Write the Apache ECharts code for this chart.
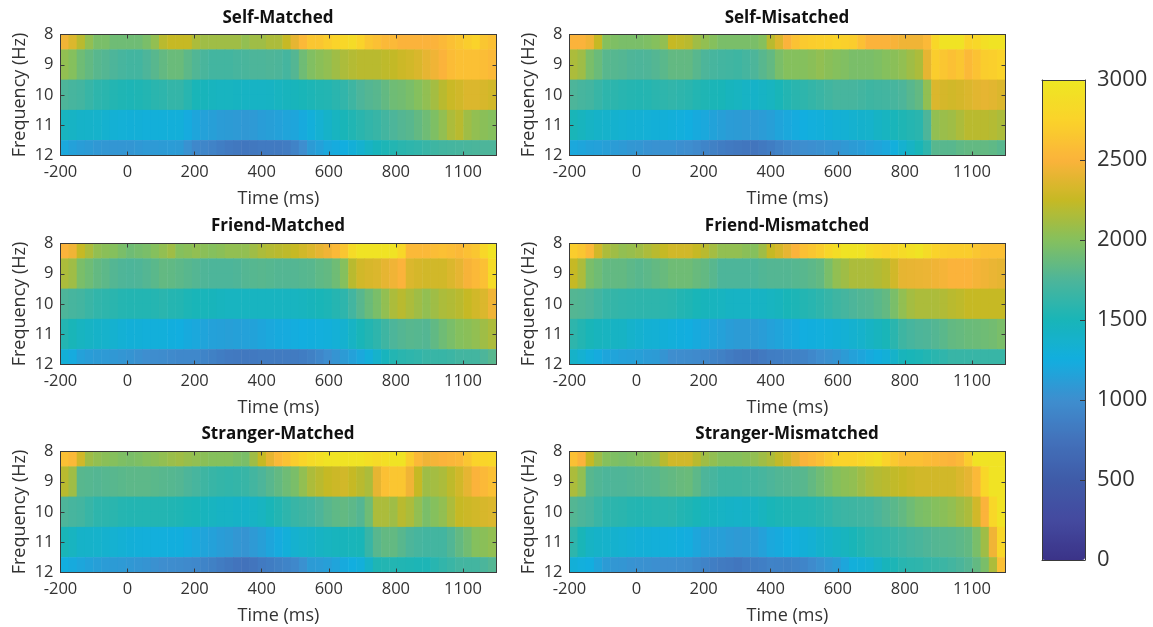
<!DOCTYPE html>
<html><head><meta charset="utf-8">
<style>html,body{margin:0;padding:0;background:#fff}#c{width:1153px;height:627px}</style>
<script src="https://cdn.jsdelivr.net/npm/echarts@6/dist/echarts.min.js"></script>
</head><body><div id="c"></div>
<script>
const times=['-200','-175','-150','-125','-100','-75','-50','-25',
'0','25','50','75','100','125','150','175',
'200','225','250','275','300','325','350','375',
'400','425','450','475','500','525','550','575',
'600','625','650','675','700','725','750','775',
'800','825','850','875','900','925','950','975',
'1000','1025','1050','1075','1100'];
const freqBands=['8-8.5','8.5-9','9-9.5','9.5-10','10-10.5','10.5-11','11-11.5','11.5-12'];
const bandRow=[0,1,1,2,2,3,3,4];
const tickTimes=[-200,0,200,400,600,800,1000];
const tickLabels=['-200','0','200','400','600','800','1100'];
const colorbarTicks=[0,500,1000,1500,2000,2500,3000];
const titles=['Self-Matched','Self-Misatched','Friend-Matched','Friend-Mismatched','Stranger-Matched','Stranger-Mismatched'];

const selfMatched=[
[2450,2350,2200,2050,1950,1950,1900,1900,
 1900,1900,1950,2050,2200,2250,2250,2250,
 2150,2100,2100,2100,2100,2100,2050,2100,
 2100,2150,2150,2250,2400,2550,2650,2650,
 2700,2750,2800,2850,2750,2650,2600,2550,
 2550,2500,2500,2500,2500,2500,2550,2600,
 2650,2700,2750,2650,2600],
[2050,2000,1900,1850,1800,1780,1750,1720,
 1700,1700,1750,1800,1850,1880,1880,1820,
 1770,1730,1700,1700,1700,1720,1730,1750,
 1750,1760,1750,1710,1780,1900,1980,2020,
 2050,2100,2150,2180,2200,2200,2200,2220,
 2240,2280,2300,2340,2400,2450,2500,2570,
 2600,2600,2600,2580,2550],
[1750,1720,1700,1650,1600,1580,1550,1530,
 1520,1530,1550,1580,1600,1630,1630,1570,
 1500,1480,1460,1450,1450,1440,1430,1420,
 1420,1430,1450,1470,1480,1500,1520,1540,
 1550,1580,1620,1680,1750,1780,1800,1850,
 1900,1920,1950,2000,2050,2120,2200,2270,
 2300,2350,2350,2330,2300],
[1450,1420,1400,1390,1380,1350,1320,1310,
 1300,1300,1290,1290,1290,1290,1290,1230,
 1180,1150,1130,1110,1100,1090,1080,1090,
 1120,1130,1150,1170,1180,1220,1280,1340,
 1400,1450,1500,1540,1580,1620,1650,1700,
 1750,1780,1800,1850,1900,1970,2050,2150,
 2200,2100,2050,2020,2000],
[1200,1150,1120,1100,1080,1070,1060,1060,
 1060,1080,1090,1090,1100,1110,1100,1030,
 950,930,900,860,820,800,790,800,
 820,820,820,840,900,1000,1100,1150,
 1200,1230,1250,1300,1350,1420,1480,1520,
 1550,1580,1600,1620,1650,1680,1700,1710,
 1720,1730,1740,1750,1750]];

const selfMismatched=[
[2500,2500,2450,2250,2000,1970,1950,1950,
 1950,1970,2000,2050,2250,2230,2200,2100,
 2050,2000,1950,1950,1950,1950,1950,2000,
 2200,2350,2500,2620,2680,2700,2720,2730,
 2750,2730,2700,2600,2500,2500,2500,2480,
 2450,2450,2450,2550,2800,2950,2950,2950,
 2750,2800,2900,2950,2950],
[2150,2100,1950,1880,1800,1790,1780,1760,
 1750,1760,1780,1810,1850,1850,1850,1800,
 1750,1720,1700,1690,1680,1710,1750,1800,
 1850,1950,2000,2000,2000,2020,2050,2020,
 2000,1980,1950,1950,1950,1970,2000,2020,
 2050,2100,2150,2400,2700,2650,2600,2650,
 2550,2620,2700,2720,2750],
[1750,1720,1700,1650,1600,1590,1570,1560,
 1550,1560,1580,1600,1620,1600,1580,1550,
 1530,1510,1500,1470,1450,1420,1400,1420,
 1450,1500,1550,1580,1600,1630,1660,1690,
 1720,1720,1720,1700,1680,1690,1700,1720,
 1750,1800,1850,2050,2350,2320,2300,2320,
 2350,2380,2400,2380,2350],
[1500,1460,1420,1400,1380,1360,1340,1330,
 1320,1310,1300,1300,1290,1270,1250,1220,
 1200,1160,1130,1110,1100,1090,1090,1110,
 1130,1170,1200,1230,1250,1270,1280,1300,
 1320,1330,1350,1370,1380,1420,1450,1490,
 1530,1560,1580,1750,2050,2080,2100,2150,
 2200,2200,2200,2180,2150],
[1200,1180,1160,1150,1130,1110,1090,1070,
 1060,1040,1030,1030,1030,1010,1000,960,
 920,880,850,820,800,790,780,810,
 850,900,950,980,1000,1010,1020,1040,
 1050,1080,1100,1120,1150,1170,1200,1270,
 1350,1420,1500,1600,1800,1800,1800,1830,
 1850,1850,1850,1830,1800]];

const friendMatched=[
[2500,2450,2250,2150,2050,2020,2000,1950,
 1900,1930,1950,2000,2050,2100,2000,2020,
 2050,2020,2000,2020,2050,2050,2050,2100,
 2150,2180,2200,2220,2250,2300,2350,2400,
 2450,2550,2650,2850,2950,2950,2950,2950,
 2950,2800,2550,2550,2550,2580,2600,2580,
 2550,2600,2650,2800,2950],
[2150,2100,1950,1900,1850,1820,1780,1760,
 1750,1760,1780,1810,1850,1840,1820,1800,
 1780,1760,1750,1750,1750,1760,1780,1790,
 1800,1790,1780,1780,1780,1790,1800,1830,
 1850,1900,2000,2200,2300,2330,2350,2400,
 2450,2500,2350,2320,2300,2300,2300,2350,
 2400,2480,2550,2600,2850],
[1750,1720,1700,1660,1620,1600,1580,1560,
 1550,1550,1550,1560,1580,1560,1550,1520,
 1500,1490,1480,1460,1450,1450,1450,1450,
 1450,1450,1450,1450,1450,1460,1480,1500,
 1520,1560,1600,1700,1800,1880,1950,2050,
 2150,2200,2150,2100,2050,2100,2150,2170,
 2200,2250,2300,2350,2450],
[1550,1500,1450,1420,1400,1380,1350,1320,
 1300,1300,1290,1280,1280,1260,1250,1220,
 1200,1170,1150,1140,1130,1140,1150,1160,
 1180,1200,1220,1230,1240,1250,1260,1270,
 1280,1310,1350,1420,1500,1550,1600,1680,
 1750,1780,1800,1790,1780,1840,1900,1950,
 2000,2020,2050,2100,2150],
[1300,1230,1150,1120,1100,1090,1080,1060,
 1050,1020,1000,990,980,960,950,950,
 950,910,880,850,820,810,800,810,
 830,830,830,830,830,850,880,940,
 1000,1050,1100,1150,1200,1290,1380,1470,
 1550,1580,1600,1620,1650,1650,1650,1670,
 1700,1700,1700,1750,1800]];

const friendMismatched=[
[2700,2650,2550,2300,2150,2100,2050,2070,
 2100,2150,2200,2250,2300,2300,2300,2250,
 2200,2120,2050,2050,2050,2020,2000,2100,
 2250,2320,2400,2500,2600,2650,2700,2800,
 2870,2950,2950,2950,2850,2800,2750,2800,
 2850,2900,2950,2850,2750,2720,2700,2700,
 2700,2650,2600,2600,2600],
[2250,2150,1950,1900,1850,1850,1850,1820,
 1800,1820,1850,1870,1900,1900,1900,1870,
 1850,1800,1750,1750,1750,1750,1750,1770,
 1780,1780,1780,1790,1800,1820,1850,1950,
 2050,2100,2150,2150,2150,2170,2200,2300,
 2400,2410,2420,2430,2450,2470,2500,2500,
 2500,2470,2450,2420,2400],
[1780,1770,1750,1700,1650,1630,1620,1610,
 1600,1600,1600,1590,1580,1550,1530,1500,
 1480,1460,1450,1430,1420,1420,1420,1430,
 1450,1470,1500,1520,1550,1570,1600,1640,
 1680,1710,1750,1770,1780,1810,1850,1950,
 2050,2120,2150,2150,2150,2170,2200,2220,
 2250,2250,2250,2250,2250],
[1600,1550,1500,1470,1450,1430,1420,1380,
 1350,1330,1320,1300,1280,1260,1250,1220,
 1200,1170,1150,1120,1100,1100,1100,1120,
 1150,1170,1200,1220,1250,1260,1270,1280,
 1300,1320,1350,1380,1420,1460,1500,1580,
 1680,1720,1750,1760,1780,1810,1850,1860,
 1880,1890,1900,1920,1950],
[1400,1340,1280,1230,1180,1170,1150,1140,
 1130,1110,1100,1050,1000,990,980,960,
 950,910,880,840,800,790,780,810,
 850,860,880,890,900,950,1000,1020,
 1050,1100,1150,1180,1220,1260,1300,1390,
 1480,1500,1520,1550,1580,1610,1650,1650,
 1650,1650,1650,1650,1650]];

const strangerMatched=[
[2600,2550,2300,2100,2050,2020,2000,1970,
 1950,1970,2000,2020,2050,2080,2100,2070,
 2050,2020,2000,2000,2000,1970,1950,2100,
 2250,2400,2550,2620,2700,2780,2850,2900,
 2950,2950,2950,2950,2950,2900,2850,2900,
 2950,2950,2700,2550,2450,2470,2500,2520,
 2550,2650,2750,2780,2800],
[2200,2100,1800,1790,1780,1790,1800,1810,
 1820,1820,1820,1810,1800,1790,1780,1750,
 1720,1680,1650,1630,1620,1630,1650,1700,
 1750,1800,1850,1900,1950,2050,2150,2200,
 2250,2280,2300,2250,2200,2150,2400,2600,
 2650,2650,2450,2250,2100,2120,2150,2220,
 2300,2400,2500,2550,2600],
[1750,1720,1700,1650,1600,1590,1580,1560,
 1550,1550,1550,1550,1550,1540,1530,1510,
 1500,1470,1450,1430,1420,1410,1400,1420,
 1450,1500,1550,1600,1650,1680,1700,1750,
 1800,1830,1850,1820,1780,1900,2150,2150,
 2100,2200,2150,2050,1950,2000,2050,2150,
 2250,2280,2300,2330,2350],
[1500,1450,1400,1390,1380,1360,1340,1320,
 1300,1290,1280,1270,1270,1260,1260,1230,
 1200,1170,1150,1120,1100,1070,1050,1090,
 1130,1180,1230,1290,1350,1380,1400,1430,
 1450,1470,1480,1490,1500,1650,1800,1850,
 1850,1800,1750,1720,1700,1700,1700,1770,
 1850,1920,2000,2020,2050],
[1250,1220,1190,1160,1130,1110,1100,1090,
 1080,1060,1050,1020,1000,990,980,960,
 950,910,880,840,800,770,750,780,
 820,850,880,910,950,1020,1100,1110,
 1130,1170,1220,1250,1280,1400,1530,1550,
 1550,1540,1530,1520,1520,1570,1620,1660,
 1700,1700,1700,1740,1780]];

const strangerMismatched=[
[2600,2500,2250,2100,2000,1970,1950,1970,
 2000,2020,2050,2200,2300,2300,2300,2200,
 2100,2050,2000,2000,2000,2020,2050,2100,
 2150,2230,2300,2400,2500,2550,2600,2680,
 2750,2750,2750,2800,2850,2900,2750,2670,
 2600,2600,2600,2570,2550,2520,2500,2550,
 2700,2950,2950,2950,2950],
[2150,2050,1800,1770,1750,1760,1760,1770,
 1780,1790,1800,1830,1850,1870,1880,1820,
 1750,1720,1680,1680,1680,1690,1700,1720,
 1750,1770,1780,1790,1800,1850,1900,1950,
 2000,2030,2050,2100,2150,2180,2200,2230,
 2250,2280,2300,2300,2300,2300,2300,2350,
 2400,2550,2800,2950,2950],
[1780,1750,1720,1660,1600,1590,1580,1560,
 1550,1560,1570,1570,1580,1550,1530,1500,
 1470,1440,1420,1410,1400,1410,1430,1460,
 1500,1520,1530,1540,1550,1560,1580,1610,
 1650,1670,1680,1690,1700,1740,1780,1810,
 1850,1900,1950,1970,2000,2020,2050,2100,
 2150,2300,2500,2800,2950],
[1600,1500,1420,1400,1380,1360,1340,1320,
 1300,1300,1290,1290,1280,1260,1240,1190,
 1150,1140,1130,1110,1090,1100,1110,1150,
 1200,1220,1250,1270,1300,1330,1370,1400,
 1430,1460,1500,1540,1580,1600,1620,1650,
 1680,1710,1730,1760,1780,1790,1800,1820,
 1850,1950,2100,2450,2800],
[1300,1270,1250,1170,1100,1070,1060,1040,
 1030,1020,1010,1000,1000,990,980,940,
 900,860,830,810,790,820,850,870,
 900,890,880,900,920,970,1020,1060,
 1100,1190,1280,1300,1330,1400,1480,1520,
 1570,1590,1600,1630,1650,1670,1700,1740,
 1780,1850,1950,2150,2600]];

const panels=[selfMatched,selfMismatched,friendMatched,friendMismatched,strangerMatched,strangerMismatched];
const colormap=['#3B3388','#444A9F','#3F5BA8','#4272BB','#3E8ECF','#12AEDF','#19B5B8','#4DB59A','#85C05D','#C6B924','#FBB33B','#FAD32A','#EEE722'];

const INK='#3a3a3a', TXT='#333333', FONT='"Open Sans"';
const lefts=[60.5,569.5], tops=[34.5,243.5,451.5], W=436, H=121;
const titleC=[278,787], titleY=[10,218,426];
const grid=[],xAxis=[],yAxis=[],series=[],title=[];
const lineOpt={show:true,onZero:false,lineStyle:{color:INK,width:1}};
const tickOpt={show:true,inside:true,length:4,lineStyle:{color:INK}};
panels.forEach((rows,p)=>{
  const c=p%2, r=Math.floor(p/2);
  grid.push({left:lefts[c],top:tops[r],width:W,height:H});
  title.push({text:titles[p],left:titleC[c],top:titleY[r],textAlign:'center',padding:0,
    textStyle:{fontFamily:FONT,fontSize:17,fontWeight:'bold',color:'#111'}});
  // hidden category axes place the cells; visible value axes carry ticks and labels
  const xi=xAxis.length, yi=yAxis.length;
  xAxis.push({type:'category',data:times,gridIndex:p,show:false,boundaryGap:true});
  yAxis.push({type:'category',data:freqBands,gridIndex:p,show:false,inverse:true,boundaryGap:true});
  const xBase={type:'value',gridIndex:p,min:-200,max:1100,interval:200,z:5,
    axisLine:lineOpt,axisTick:tickOpt,splitLine:{show:false}};
  xAxis.push(Object.assign({},xBase,{position:'bottom',name:'Time (ms)',nameLocation:'middle',nameGap:34,
    nameTextStyle:{fontFamily:FONT,fontSize:18,color:TXT},
    axisLabel:{showMaxLabel:false,formatter:v=>{const k=tickTimes.indexOf(v);return k<0?'':tickLabels[k];},
      fontFamily:FONT,fontSize:16.5,color:TXT,margin:8,hideOverlap:false}}));
  xAxis.push(Object.assign({},xBase,{position:'top',axisLabel:{show:false}}));
  const yBase={type:'value',gridIndex:p,min:8,max:12,interval:1,inverse:true,z:5,
    axisLine:lineOpt,axisTick:tickOpt,splitLine:{show:false}};
  yAxis.push(Object.assign({},yBase,{position:'left',name:'Frequency (Hz)',nameLocation:'middle',nameGap:32,
    nameTextStyle:{fontFamily:FONT,fontSize:18,color:TXT},
    axisLabel:{fontFamily:FONT,fontSize:16.5,color:TXT,margin:7,hideOverlap:false}}));
  yAxis.push(Object.assign({},yBase,{position:'right',axisLabel:{show:false}}));
  const data=[];
  bandRow.forEach((row,b)=>rows[row].forEach((v,ix)=>data.push([ix,b,v])));
  series.push({type:'heatmap',xAxisIndex:xi,yAxisIndex:yi,data,progressive:0,itemStyle:{borderWidth:0},emphasis:{disabled:true}});
});
// colour bar frame and ticks
const g=grid.length;
grid.push({left:1042,top:80,width:43,height:480});
const frame={type:'value',gridIndex:g,min:0,max:1,z:20,axisLine:lineOpt,axisTick:{show:false},axisLabel:{show:false},splitLine:{show:false}};
xAxis.push(Object.assign({},frame,{position:'bottom'}));
xAxis.push(Object.assign({},frame,{position:'top'}));
yAxis.push({type:'value',gridIndex:g,position:'right',min:0,max:3000,interval:500,z:20,axisLine:lineOpt,
  axisTick:{show:true,inside:true,length:5,lineStyle:{color:INK}},splitLine:{show:false},
  axisLabel:{fontFamily:FONT,fontSize:22,color:TXT,margin:12,padding:[0,0,6,0],
    formatter:v=>colorbarTicks.includes(v)?String(v):''}});
yAxis.push(Object.assign({},frame,{position:'left',max:3000}));

const chart=echarts.init(document.getElementById('c'),null,{renderer:'canvas'});
chart.setOption({
  animation:false,backgroundColor:'#fff',title,grid,xAxis,yAxis,series,
  visualMap:{type:'continuous',min:0,max:3000,calculable:false,realtime:false,hoverLink:false,
    seriesIndex:[0,1,2,3,4,5],left:1042,top:80,itemWidth:43,itemHeight:480,padding:0,text:null,showLabel:false,
    inRange:{color:colormap},textStyle:{color:'transparent',fontSize:1}}
});
</script></body></html>
